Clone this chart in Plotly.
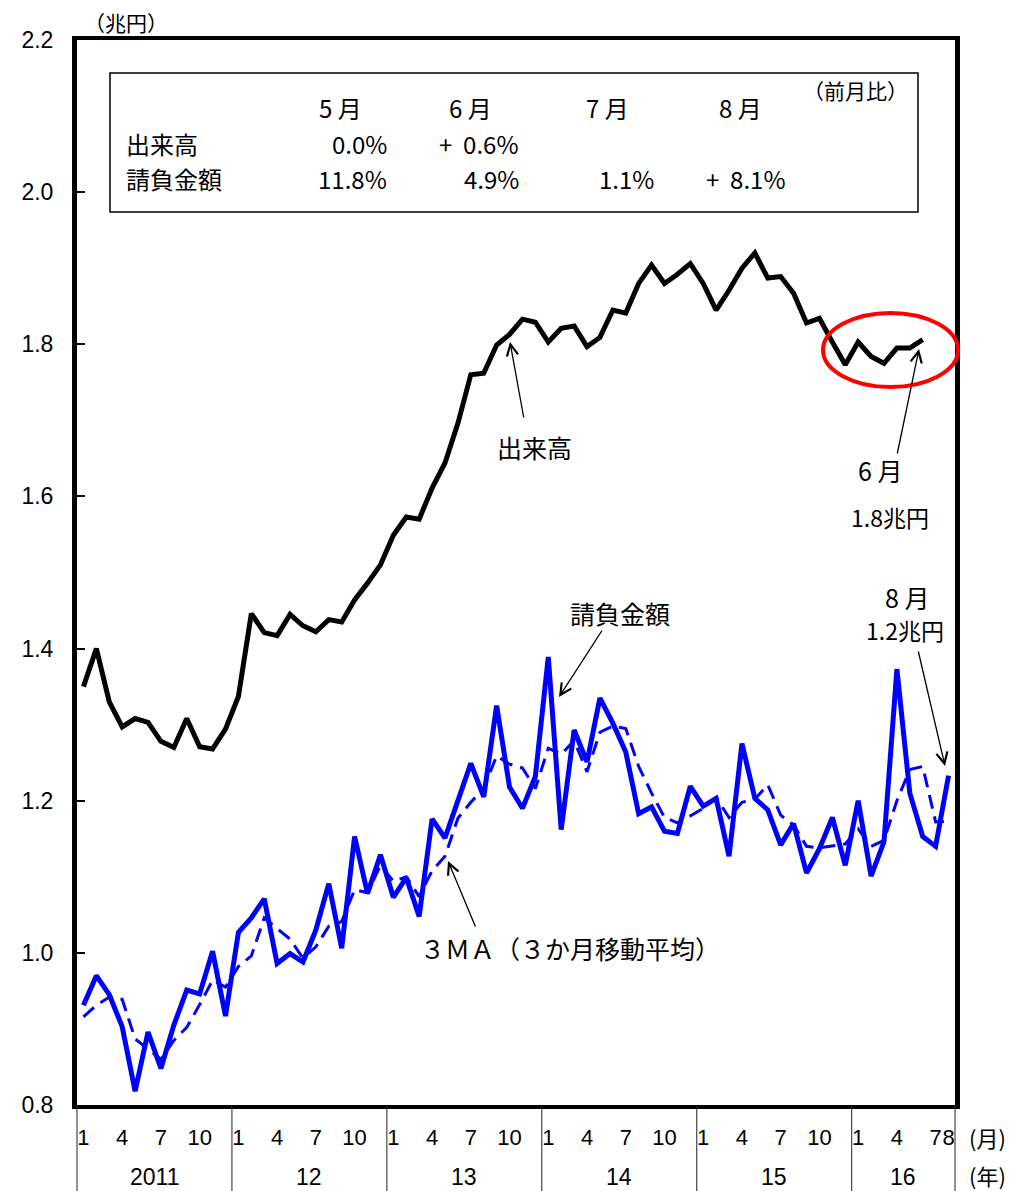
import plotly.graph_objects as go

# 出来高（兆円）2011年1月～2016年6月
dekidaka = [
    1.350, 1.400, 1.330, 1.297, 1.308, 1.303, 1.278, 1.270, 1.308, 1.271, 1.268, 1.294,
    1.337, 1.446, 1.421, 1.417, 1.445, 1.430, 1.422, 1.438, 1.435, 1.464, 1.486, 1.510,
    1.549, 1.573, 1.570, 1.611, 1.644, 1.696, 1.760, 1.762, 1.799, 1.813, 1.833, 1.829,
    1.803, 1.821, 1.824, 1.797, 1.809, 1.845, 1.841, 1.880, 1.904, 1.880, 1.892, 1.906,
    1.880, 1.845, 1.871, 1.900, 1.920, 1.887, 1.889, 1.867, 1.828, 1.834, 1.803, 1.773,
    1.803, 1.784, 1.775, 1.795, 1.795, 1.806,
]

# 請負金額（兆円）2011年1月～2016年8月
ukeoi = [
    0.931, 0.970, 0.945, 0.903, 0.818, 0.896, 0.848, 0.905, 0.951, 0.946, 1.002, 0.917,
    1.027, 1.046, 1.071, 0.986, 0.999, 0.988, 1.030, 1.091, 1.006, 1.153, 1.078, 1.129,
    1.073, 1.099, 1.048, 1.176, 1.151, 1.201, 1.249, 1.205, 1.325, 1.218, 1.190, 1.232,
    1.389, 1.162, 1.293, 1.251, 1.335, 1.302, 1.264, 1.183, 1.192, 1.160, 1.157, 1.219,
    1.193, 1.203, 1.127, 1.275, 1.203, 1.188, 1.142, 1.170, 1.105, 1.137, 1.178, 1.115,
    1.200, 1.101, 1.146, 1.373, 1.210, 1.153, 1.140, 1.233,
]

# 請負金額 3MA
ukeoi_3ma = [
    0.916, 0.931, 0.942, 0.939, 0.887, 0.874, 0.860, 0.885, 0.902, 0.932, 0.964, 0.955,
    0.982, 0.996, 1.046, 1.032, 1.018, 0.993, 1.008, 1.035, 1.041, 1.083, 1.079, 1.115,
    1.094, 1.100, 1.074, 1.108, 1.127, 1.177, 1.198, 1.216, 1.259, 1.248, 1.243, 1.216,
    1.269, 1.261, 1.279, 1.238, 1.290, 1.298, 1.295, 1.245, 1.210, 1.178, 1.171, 1.180,
    1.190, 1.204, 1.178, 1.198, 1.202, 1.221, 1.181, 1.168, 1.140, 1.138, 1.141, 1.143,
    1.163, 1.140, 1.148, 1.200, 1.241, 1.245, 1.172, 1.173,
]

years = ["2011", "12", "13", "14", "15", "16"]
months_in_year = [12, 12, 12, 12, 12, 8]
month_ticks = [[1, 4, 7, 10]] * 5 + [[1, 4, 7, 8]]

table_months = ["5 月", "6 月", "7 月", "8 月"]
table_dekidaka = ["0.0%", "+  0.6%", "", ""]
table_ukeoi = ["11.8%", "4.9%", "1.1%", "+  8.1%"]

W, H = 1014, 1191
L, R, T, B = 77, 59, 40, 86
JP = "Noto Sans CJK JP"
NUM = "Liberation Sans, Arial, sans-serif"


def paper(x, y):
    return (x - L) / (W - L - R), (H - B - y) / (H - T - B)


n = len(ukeoi)
x_all = list(range(n))
x_range = [-0.5, n - 0.5]

tickvals, ticktext, year_mid, bounds = [], [], [], [-0.5]
start = 0
for cnt, ticks in zip(months_in_year, month_ticks):
    for m in ticks:
        tickvals.append(start + m - 1)
        ticktext.append(str(m))
    year_mid.append(start + (cnt - 1) / 2)
    start += cnt
    bounds.append(start - 0.5)

fig = go.Figure()
fig.add_trace(go.Scatter(x=x_all[:len(dekidaka)], y=dekidaka, mode="lines",
                         line=dict(color="black", width=5), name="出来高"))
fig.add_trace(go.Scatter(x=x_all, y=ukeoi, mode="lines",
                         line=dict(color="#0000ff", width=5), name="請負金額"))
fig.add_trace(go.Scatter(x=x_all, y=ukeoi_3ma, mode="lines",
                         line=dict(color="#0000ff", width=3, dash="14px,8px"),
                         name="3MA"))

shapes = []
bottom = -B / (H - T - B)
for b in bounds:
    xp = (b - x_range[0]) / (x_range[1] - x_range[0])
    shapes.append(dict(type="line", xref="paper", yref="paper", x0=xp, x1=xp,
                       y0=0, y1=bottom, line=dict(color="#222", width=1)))

bx0, by0 = paper(110, 212)
bx1, by1 = paper(918, 73)
shapes.append(dict(type="rect", xref="paper", yref="paper", x0=bx0, y0=by0,
                   x1=bx1, y1=by1, line=dict(color="black", width=1.5)))

ex0, ey0 = paper(823, 387)
ex1, ey1 = paper(958, 313)
shapes.append(dict(type="circle", xref="paper", yref="paper", x0=ex0, y0=ey0,
                   x1=ex1, y1=ey1, line=dict(color="red", width=4)))

annotations = []


def text(s, x, y, size=25, anchor="center", font=JP):
    xp, yp = paper(x, y)
    annotations.append(dict(text=s, x=xp, y=yp, xref="paper", yref="paper",
                            xanchor=anchor, yanchor="middle", showarrow=False,
                            font=dict(family=font, size=size, color="black")))


def arrow(hx, hy, ax, ay):
    xp, yp = paper(hx, hy)
    annotations.append(dict(text="", x=xp, y=yp, xref="paper", yref="paper",
                            ax=ax, ay=ay, showarrow=True, arrowhead=5,
                            arrowsize=1.7, arrowwidth=1.3, arrowcolor="black"))


# table in the box
text("（前月比）", 855, 90, size=21)
for s, xc in zip(table_months, [340, 470, 607, 740]):
    text(s, xc, 108, size=24)
text("出来高", 124, 143, size=24, anchor="left")
text("請負金額", 124, 178, size=24, anchor="left")
for s, xr in zip(table_dekidaka, [389, 521, 656, 788]):
    if s:
        text(s, xr, 143, size=24, anchor="right")
for s, xr in zip(table_ukeoi, [389, 521, 656, 788]):
    text(s, xr, 178, size=24, anchor="right")

# labels on the chart
text("（兆円）", 126, 22, size=21)
text("出来高", 534, 447)
text("請負金額", 620, 613)
text("３ＭＡ（３か月移動平均）", 570, 948)
text("6 月", 880, 470)
text("1.8兆円", 890, 517, size=23)
text("8 月", 907, 597)
text("1.2兆円", 905, 630, size=23)
arrow(510, 342, 14, 77)
arrow(559, 697, 44, -68)
arrow(448, 861, 28, 67)
arrow(919, 349, -22, 106)
arrow(945, 766, -27, -116)

# axis captions
text("(月)", 988, 1137, size=22)
text("(年)", 988, 1175, size=22)
for s, xm in zip(years, year_mid):
    annotations.append(dict(text=s, x=xm, y=paper(0, 1177)[1], xref="x", yref="paper",
                            xanchor="center", yanchor="middle", showarrow=False,
                            font=dict(family=NUM, size=23, color="black")))

fig.update_layout(
    width=W, height=H,
    margin=dict(l=L, r=R, t=T, b=B),
    paper_bgcolor="white", plot_bgcolor="white",
    showlegend=False,
    shapes=shapes,
    annotations=annotations,
    xaxis=dict(range=x_range, tickvals=tickvals, ticktext=ticktext, ticks="",
               tickangle=0, showgrid=False, zeroline=False,
               showline=True, linewidth=4, linecolor="black", mirror=True,
               ticklabelstandoff=10,
               tickfont=dict(family=NUM, size=22, color="black")),
    yaxis=dict(range=[0.8, 2.2], dtick=0.2, tickformat=".1f", ticks="inside",
               ticklen=8, tickwidth=1.5, tickcolor="black",
               showgrid=False, zeroline=False,
               showline=True, linewidth=5, linecolor="black", mirror=True,
               ticklabelstandoff=14,
               tickfont=dict(family=NUM, size=23, color="black")),
)

fig.write_html("out.html", config={"displayModeBar": False},
               post_script="document.body.style.margin='0';")
